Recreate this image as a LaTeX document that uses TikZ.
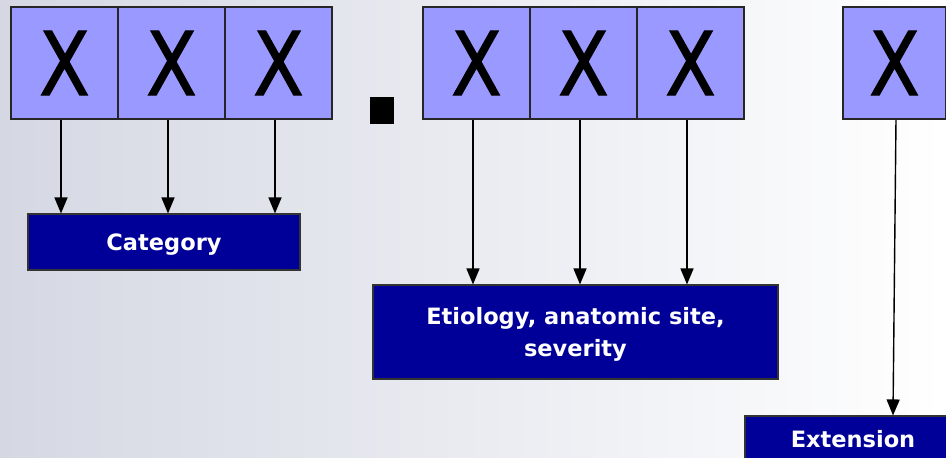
\documentclass[tikz,border=0pt]{standalone}
\usepackage{fontspec}
\setmainfont{DejaVu Sans}
\newfontfamily\xfont[FakeStretch=0.84,FakeBold=1.2]{DejaVu Sans}
\usetikzlibrary{arrows.meta}
\definecolor{bgleft}{HTML}{D5D8E3}
\definecolor{cellfill}{HTML}{9999FF}
\definecolor{darkbox}{HTML}{000099}
\tikzset{
  cell/.style={draw=black!85, line width=1.1pt, fill=cellfill, minimum width=107pt, minimum height=112pt, inner sep=0pt, font=\xfont\fontsize{88}{88}\selectfont},
  labelbox/.style={draw=black!80, line width=1.1pt, fill=darkbox, text=white, inner sep=0pt, align=center, text height=16pt, text depth=0pt, font=\bfseries\fontsize{22.5}{32}\selectfont},
  arr/.style={line width=1.4pt, -{Triangle[length=16pt,width=13pt]}}
}
\begin{document}
\begin{tikzpicture}[x=1pt,y=-1pt]
\useasboundingbox (0,0) rectangle (946,458);
\begin{scope}
\clip (0,0) rectangle (946,458);
\shade[left color=bgleft, right color=white] (0,0) rectangle (946,458);
% cells
\node[cell] (a1) at (64.5,63) {X};
\node[cell] (a2) at (171.5,63) {X};
\node[cell] (a3) at (278.5,63) {X};
\node[cell] (b1) at (476.5,63) {X};
\node[cell] (b2) at (583.5,63) {X};
\node[cell] (b3) at (690.5,63) {X};
\node[cell, minimum width=103pt] (c1) at (894.5,63) {X};
% dot
\node[fill=black, minimum width=24pt, minimum height=27pt, inner sep=0pt] (dot) at (382,110.5) {};
% labels
\node[labelbox, minimum width=272pt, minimum height=56pt] (cat) at (164,242) {Category};
\node[labelbox, text height=48pt, minimum width=405pt, minimum height=94pt] (eti) at (575.5,332) {Etiology, anatomic site,\\severity};
\node[labelbox, minimum width=216pt, minimum height=46pt] (ext) at (853,439) {Extension};
\end{scope}
% arrows
\draw[arr] ([xshift=-3.5pt]a1.south) -- ([xshift=-3.5pt]a1.south |- cat.north);
\draw[arr] ([xshift=-3.5pt]a2.south) -- ([xshift=-3.5pt]a2.south |- cat.north);
\draw[arr] ([xshift=-3.5pt]a3.south) -- ([xshift=-3.5pt]a3.south |- cat.north);
\draw[arr] ([xshift=-3.5pt]b1.south) -- ([xshift=-3.5pt]b1.south |- eti.north);
\draw[arr] ([xshift=-3.5pt]b2.south) -- ([xshift=-3.5pt]b2.south |- eti.north);
\draw[arr] ([xshift=-3.5pt]b3.south) -- ([xshift=-3.5pt]b3.south |- eti.north);
\draw[arr] ([xshift=1.5pt]c1.south) -- ([xshift=40pt]ext.north);
\end{tikzpicture}
\end{document}
